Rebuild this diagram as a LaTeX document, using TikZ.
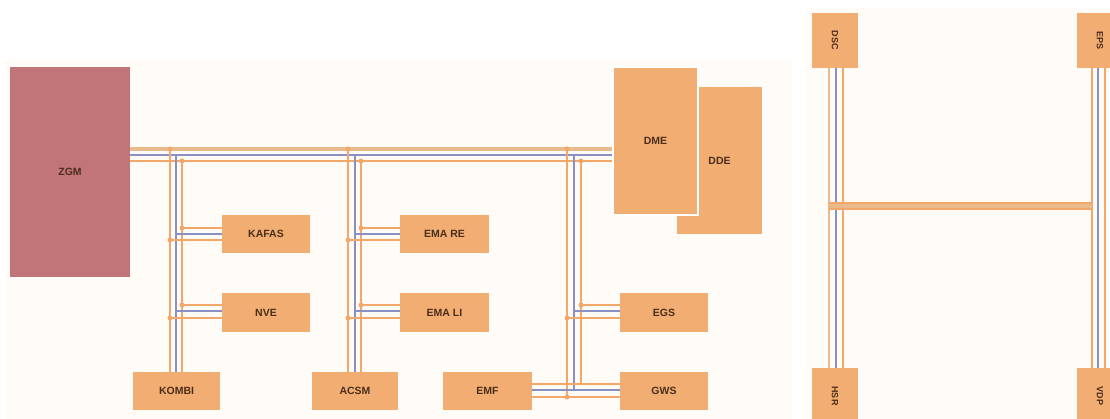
\documentclass[tikz,border=0pt]{standalone}
\usepackage{fontspec}
\setmainfont{Liberation Sans}
\definecolor{boxor}{HTML}{F2AE72}
\definecolor{zgmc}{HTML}{C27579}
\definecolor{busor}{HTML}{F3A86A}
\definecolor{bustan}{HTML}{E8BA8C}
\definecolor{busbl}{HTML}{8A8FC4}
\definecolor{bgc}{HTML}{FFFCF7}
\definecolor{txt}{HTML}{4A2E1C}
\tikzset{
  box/.style={fill=boxor, draw=none, inner sep=0pt, text=txt, font=\bfseries\fontsize{10.5}{12}\selectfont},
  smallbox/.style={box, font=\bfseries\fontsize{9}{10}\selectfont},
  orl/.style={draw=busor, line width=2.8pt},
  tanl/.style={draw=bustan, line width=3.5pt},
  bll/.style={draw=busbl, line width=1.2pt},
  jdot/.style={fill=busor, draw=none, circle, minimum size=5pt, inner sep=0pt}
}
\begin{document}
\begin{tikzpicture}[x=1pt,y=-1pt]
\useasboundingbox (0,0) rectangle (1110,419);
\fill[white] (0,0) rectangle (1110,419);
\fill[bgc] (5,60) rectangle (792,419);
\fill[bgc] (806,8) rectangle (1110,419);

% ---------- left panel boxes ----------
\node[box, fill=zgmc, minimum width=120pt, minimum height=210pt] (zgm) at (70,172) {ZGM};
\node[box, minimum width=85pt, minimum height=147pt] (dde) at (719.5,160.5) {DDE};
\node[box, draw=white, line width=2pt, minimum width=85pt, minimum height=148pt] (dme) at (655.5,141) {DME};
\node[box, minimum width=88pt, minimum height=38pt] (kafas) at (266,234) {KAFAS};
\node[box, minimum width=88pt, minimum height=39pt] (nve) at (266,312.5) {NVE};
\node[box, minimum width=87pt, minimum height=38pt] (kombi) at (176.5,391) {KOMBI};
\node[box, minimum width=86pt, minimum height=38pt] (acsm) at (355,391) {ACSM};
\node[box, minimum width=89pt, minimum height=38pt] (emare) at (444.5,234) {EMA RE};
\node[box, minimum width=89pt, minimum height=39pt] (emali) at (444.5,312.5) {EMA LI};
\node[box, minimum width=89pt, minimum height=38pt] (emf) at (487.5,391) {EMF};
\node[box, minimum width=88pt, minimum height=39pt] (egs) at (664,312.5) {EGS};
\node[box, minimum width=88pt, minimum height=38pt] (gws) at (664,391) {GWS};

% ---------- bus junction coordinates ----------
\coordinate (m1) at (zgm.east |- 0,149);
\coordinate (m2) at (zgm.east |- 0,155);
\coordinate (m3) at (zgm.east |- 0,161);
\coordinate (n1) at (dme.west |- 0,149);
\coordinate (n2) at (dme.west |- 0,155);
\coordinate (n3) at (dme.west |- 0,161);
\draw[tanl] (m1) -- (n1);
\draw[bll] (m2) -- (n2);
\draw[orl] (m3) -- (n3);

% vertical bus 1 (to KOMBI)
\coordinate (a1) at (170,149); \coordinate (a2) at (176,155); \coordinate (a3) at (182,161);
\draw[orl] (a1) -- (a1 |- kombi.north);
\draw[bll] (a2) -- (a2 |- kombi.north);
\draw[orl] (a3) -- (a3 |- kombi.north);
% vertical bus 2 (to ACSM)
\coordinate (b1) at (348,149); \coordinate (b2) at (355,155); \coordinate (b3) at (361,161);
\draw[orl] (b1) -- (b1 |- acsm.north);
\draw[bll] (b2) -- (b2 |- acsm.north);
\draw[orl] (b3) -- (b3 |- acsm.north);
% vertical bus 3 (to EMF/GWS link)
\coordinate (c1) at (567,149); \coordinate (c2) at (574,155); \coordinate (c3) at (581,161);
\coordinate (g1) at (567,397); \coordinate (g2) at (574,390); \coordinate (g3) at (581,384);
\draw[orl] (c1) -- (g1);
\draw[bll] (c2) -- (g2);
\draw[orl] (c3) -- (g3);
% EMF -- GWS
\draw[orl] (emf.east |- 0,384) -- (gws.west |- 0,384);
\draw[bll] (emf.east |- 0,390) -- (gws.west |- 0,390);
\draw[orl] (emf.east |- 0,397) -- (gws.west |- 0,397);

% stubs
\draw[orl] (a3 |- 0,228) -- (kafas.west |- 0,228);
\draw[bll] (a2 |- 0,234) -- (kafas.west |- 0,234);
\draw[orl] (a1 |- 0,240) -- (kafas.west |- 0,240);
\draw[orl] (a3 |- 0,305) -- (nve.west |- 0,305);
\draw[bll] (a2 |- 0,311) -- (nve.west |- 0,311);
\draw[orl] (a1 |- 0,318) -- (nve.west |- 0,318);
\draw[orl] (b3 |- 0,228) -- (emare.west |- 0,228);
\draw[bll] (b2 |- 0,234) -- (emare.west |- 0,234);
\draw[orl] (b1 |- 0,240) -- (emare.west |- 0,240);
\draw[orl] (b3 |- 0,305) -- (emali.west |- 0,305);
\draw[bll] (b2 |- 0,311) -- (emali.west |- 0,311);
\draw[orl] (b1 |- 0,318) -- (emali.west |- 0,318);
\draw[orl] (c3 |- 0,305) -- (egs.west |- 0,305);
\draw[bll] (c2 |- 0,311) -- (egs.west |- 0,311);
\draw[orl] (c1 |- 0,318) -- (egs.west |- 0,318);

% junction dots
\foreach \p in {a1,a3,b1,b3,c1,c3,g1}
  \node[jdot] at (\p) {};
\foreach \x/\y in {182/228,170/240,182/305,170/318,361/228,348/240,361/305,348/318,581/305,567/318}
  \node[jdot] at (\x,\y) {};

% ---------- right panel ----------
\node[smallbox, minimum width=46pt, minimum height=55pt] (tl) at (835,40.5) {\rotatebox{-90}{DSC}};
\node[smallbox, minimum width=46pt, minimum height=56pt] (bl) at (835,396) {\rotatebox{-90}{HSR}};
\node[smallbox, minimum width=46pt, minimum height=55pt] (tr) at (1100,40.5) {\rotatebox{-90}{EPS}};
\node[smallbox, minimum width=46pt, minimum height=56pt] (br) at (1100,396) {\rotatebox{-90}{VDP}};

\draw[orl, draw=bustan] (829,0 |- tl.south) -- (829,0 |- bl.north);
\draw[bll] (836,0 |- tl.south) -- (836,0 |- bl.north);
\draw[orl] (843,0 |- tl.south) -- (843,0 |- bl.north);
\draw[orl] (1092,0 |- tr.south) -- (1092,0 |- br.north);
\draw[bll] (1098,0 |- tr.south) -- (1098,0 |- br.north);
\draw[orl] (1105,0 |- tr.south) -- (1105,0 |- br.north);

\coordinate (hl) at (829,206);
\coordinate (hr) at (1092,206);
\draw[draw=busor, line width=8pt] (hl) -- (hr);
\draw[draw=bustan, line width=4pt] (hl) -- (hr);
\end{tikzpicture}
\end{document}
